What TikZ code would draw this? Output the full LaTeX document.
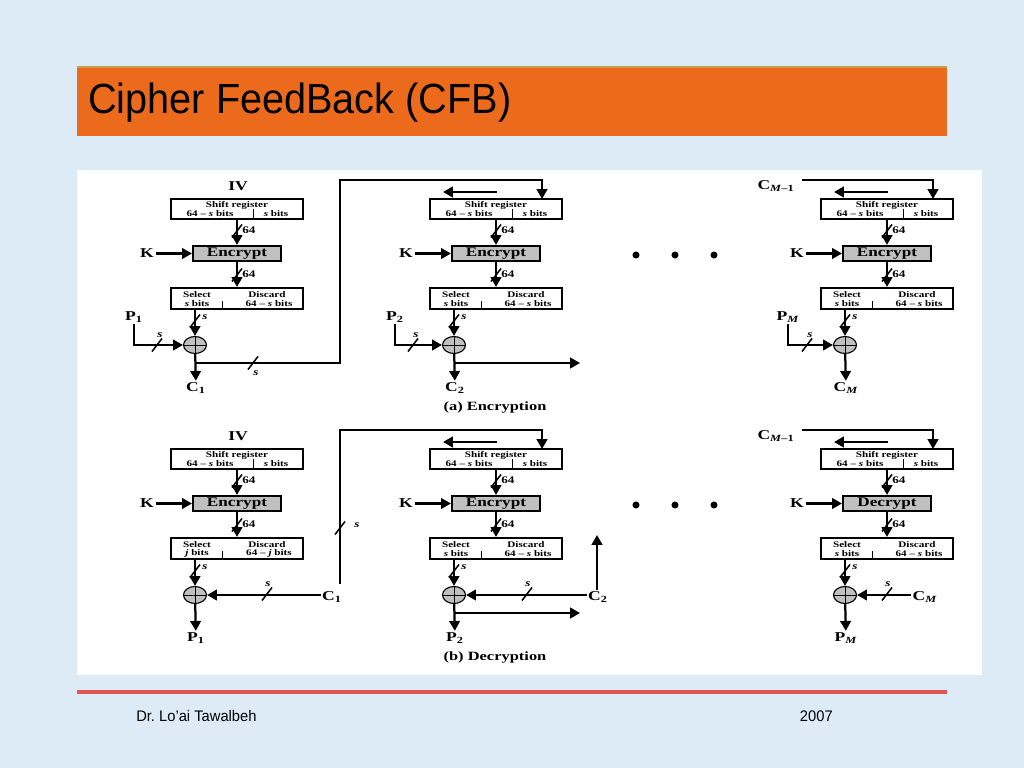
\documentclass[tikz,border=0pt]{standalone}
\usepackage{fontspec}
\setmainfont{Liberation Serif}
\newfontfamily\figfont{Liberation Serif}[FakeStretch=1.3, Ligatures=TeX]
\newfontfamily\slidefont{Liberation Sans}[FakeStretch=0.94]
\newfontfamily\footfont{Liberation Sans}[FakeStretch=0.96]
\usepackage{xcolor}
\usetikzlibrary{arrows.meta}
\usetikzlibrary{shapes.geometric}
\definecolor{bg}{RGB}{221, 235, 247}
\definecolor{ttl}{RGB}{236, 106, 28}
\definecolor{ttlline}{RGB}{196, 160, 70}
\definecolor{rl}{RGB}{222, 86, 86}
\definecolor{gr}{RGB}{192, 192, 192}

\tikzset{
  arr/.style={line width=1.6pt, -{Triangle[length=7pt, width=7.5pt]}},
  thinln/.style={line width=0.7pt},
  regbox/.style={draw, line width=1.5pt, minimum width=3.3cm, minimum height=0.5cm, inner sep=0pt},
  encbox/.style={draw, line width=1.5pt, fill=gr, minimum width=2.2cm, minimum height=0.375cm, inner sep=0pt,
    font=\figfont\bfseries\fontsize{9.4}{9.4}\selectfont},
  selbox/.style={draw, line width=1.5pt, minimum width=3.3cm, minimum height=0.525cm, inner sep=0pt},
  xorop/.style={ellipse, draw, line width=0.8pt, fill=gr, minimum width=0.575cm, minimum height=0.425cm, inner sep=0pt},
  lbl/.style={inner sep=1pt, font=\figfont\bfseries\fontsize{9.6}{9.6}\selectfont},
  tiny/.style={inner sep=0pt, font=\figfont\bfseries\fontsize{6.1}{6.1}\selectfont},
  num/.style={inner sep=0pt, font=\figfont\bfseries\fontsize{7.2}{7.2}\selectfont},
  capt/.style={inner sep=0pt, font=\figfont\bfseries\fontsize{9}{9}\selectfont},
  bitcut/.pic={\draw[line width=1.1pt] (-5,6.5) -- (5,-6.5);}
}

\begin{document}
\begin{tikzpicture}[x=0.025cm, y=-0.025cm]
        \useasboundingbox (0,0) rectangle (1024,768);
        \fill[bg] (0,0) rectangle (1024,768);
        % slide title and footer
        \fill[ttl] (77,67) rectangle (947,136);
        \draw[ttlline, line width=0.8pt] (77,67) -- (947,67);
        \node[anchor=west, inner sep=0pt, font=\slidefont\fontsize{30}{30}\selectfont] (title) at (88,103) {Cipher FeedBack (CFB)};
        \fill[white] (77,170) rectangle (982,675);
        \draw[rl, line width=2.8pt] (77,692) -- (947,692);
        \node[anchor=west, inner sep=0pt, font=\footfont\fontsize{10.9}{11}\selectfont] (author) at (136,716) {Dr.\ Lo’ai Tawalbeh};
        \node[anchor=east, inner sep=0pt, font=\footfont\fontsize{10.9}{11}\selectfont] (year) at (833,716) {2007};

        % the six stages
        \foreach \cx/\ry/\n/\opname/\bw in {237/199/1a/Encrypt/s, 496/199/2a/Encrypt/s, 887/199/3a/Encrypt/s,
                                            237/449/1b/Encrypt/j, 496/449/2b/Encrypt/s, 887/449/3b/Decrypt/s} {
            \node[regbox] (reg\n) at (\cx,\ry+10) {};
            \node[tiny] at (\cx,\ry+6.3) {Shift register};
            \node[tiny] at (\cx-27,\ry+14.3) {64 – \textit{s} bits};
            \node[tiny] at (\cx+39,\ry+14.3) {\textit{s} bits};
            \draw[thinln] (\cx+16,\ry+10) -- (\cx+16,\ry+20);
            \node[encbox] (enc\n) at (\cx,\ry+54.5) {\opname};
            \node[selbox] (sel\n) at (\cx,\ry+99.5) {};
            \node[tiny] at (\cx-40,\ry+96) {Select};
            \node[tiny] at (\cx-40,\ry+104.3) {\textit{\bw} bits};
            \node[tiny] at (\cx+30,\ry+96) {Discard};
            \node[tiny] at (\cx+32,\ry+104.3) {64 – \textit{\bw} bits};
            \draw[thinln] (\cx-15,\ry+102) -- (\cx-15,\ry+110);
            \node[xorop] (xor\n) at (\cx-42,\ry+146) {};
            \draw[thinln] (xor\n.north) -- (xor\n.south) (xor\n.west) -- (xor\n.east);
            \node[lbl] (k\n) at (\cx-90,\ry+54.5) {K};
            \draw[arr] (k\n) -- (enc\n);
            \draw[arr] (reg\n) -- (enc\n);
            \draw[arr] (enc\n) -- (sel\n);
            \draw[arr] (sel\n.south -| xor\n) -- (xor\n);
            \pic at (\cx,\ry+32) {bitcut};
            \node[num, anchor=west] at (\cx+5,\ry+31) {64};
            \pic at (\cx,\ry+76) {bitcut};
            \node[num, anchor=west] at (\cx+5,\ry+75) {64};
            \pic at (\cx-42,\ry+122) {bitcut};
            \node[num, anchor=west] at (\cx-35,\ry+118) {\textit{s}};
        }
        % shift direction and feedback input of stages 2 and M
        \foreach \cx/\ry/\n in {496/199/2a, 887/199/3a, 496/449/2b, 887/449/3b} {
            \coordinate (in\n) at (\cx+46,\ry);
            \coordinate (shs\n) at (\cx+1,\ry-7);
            \coordinate (she\n) at (\cx-53,\ry-7);
            \draw[arr] (shs\n) -- (she\n);
        }
        \foreach \dx in {636,675,714} {
            \fill (\dx,255) circle (2.5pt);
            \fill (\dx,505) circle (2.5pt);
        }

        % (a) encryption
        \node[lbl] (iv1a) at (238,186) {IV};
        \node[lbl] (p1a) at (134,317) {P\textsubscript{1}};
        \draw[arr] (p1a) |- (xor1a);
        \pic at (157,345) {bitcut};
        \node[num] at (160,335) {\textit{s}};
        \node[lbl] (c1a) at (196,388) {C\textsubscript{1}};
        \draw[arr] (xor1a) -- (c1a);
        \coordinate (tap1a) at (195,363);
        \draw[arr] (tap1a) -| (340,180) -| (in2a);
        \pic at (253,363) {bitcut};
        \node[num] at (256,373) {\textit{s}};

        \node[lbl] (p2a) at (395,317) {P\textsubscript{2}};
        \draw[arr] (p2a) |- (xor2a);
        \pic at (413,345) {bitcut};
        \node[num] at (416,335) {\textit{s}};
        \node[lbl] (c2a) at (455,388) {C\textsubscript{2}};
        \draw[arr] (xor2a) -- (c2a);
        \coordinate (tap2a) at (454,363);
        \coordinate (out2a) at (580,363);
        \draw[arr] (tap2a) -- (out2a);
        \node[capt] (capa) at (495,407) {(a) Encryption};

        \node[lbl] (cm1a) at (776,186) {C\textsubscript{\textit{M}–1}};
        \coordinate (fb3a) at (802,180);
        \draw[arr] (fb3a) -| (in3a);
        \node[lbl] (pma) at (788,317) {P\textsubscript{\textit{M}}};
        \draw[arr] (pma) |- (xor3a);
        \pic at (807,345) {bitcut};
        \node[num] at (810,335) {\textit{s}};
        \node[lbl] (cma) at (846,388) {C\textsubscript{\textit{M}}};
        \draw[arr] (xor3a) -- (cma);

        % (b) decryption
        \node[lbl] (iv1b) at (238,436) {IV};
        \node[lbl] (c1b) at (332,597) {C\textsubscript{1}};
        \draw[arr] (c1b.west |- xor1b) -- (xor1b);
        \pic at (267,594) {bitcut};
        \node[num] at (268,584) {\textit{s}};
        \coordinate (up1b) at (340,584);
        \draw[arr] (up1b) -- (340,430) -| (in2b);
        \pic at (340,528) {bitcut};
        \node[num] at (357,525) {\textit{s}};
        \node[lbl] (p1b) at (196,638) {P\textsubscript{1}};
        \draw[arr] (xor1b) -- (p1b);

        \node[lbl] (c2b) at (598,597) {C\textsubscript{2}};
        \draw[arr] (c2b.west |- xor2b) -- (xor2b);
        \pic at (527,594) {bitcut};
        \node[num] at (528,584) {\textit{s}};
        \coordinate (up2b) at (597,535);
        \draw[arr] (c2b.north -| up2b) -- (up2b);
        \node[lbl] (p2b) at (455,638) {P\textsubscript{2}};
        \draw[arr] (xor2b) -- (p2b);
        \coordinate (tap2b) at (454,613);
        \coordinate (out2b) at (580,613);
        \draw[arr] (tap2b) -- (out2b);
        \node[capt] (capb) at (495,657) {(b) Decryption};

        \node[lbl] (cm1b) at (776,436) {C\textsubscript{\textit{M}–1}};
        \coordinate (fb3b) at (802,430);
        \draw[arr] (fb3b) -| (in3b);
        \node[lbl] (cmb) at (925,597) {C\textsubscript{\textit{M}}};
        \draw[arr] (cmb.west |- xor3b) -- (xor3b);
        \pic at (887,594) {bitcut};
        \node[num] at (888,584) {\textit{s}};
        \node[lbl] (pmb) at (846,638) {P\textsubscript{\textit{M}}};
        \draw[arr] (xor3b) -- (pmb);
    \end{tikzpicture}
\end{document}
